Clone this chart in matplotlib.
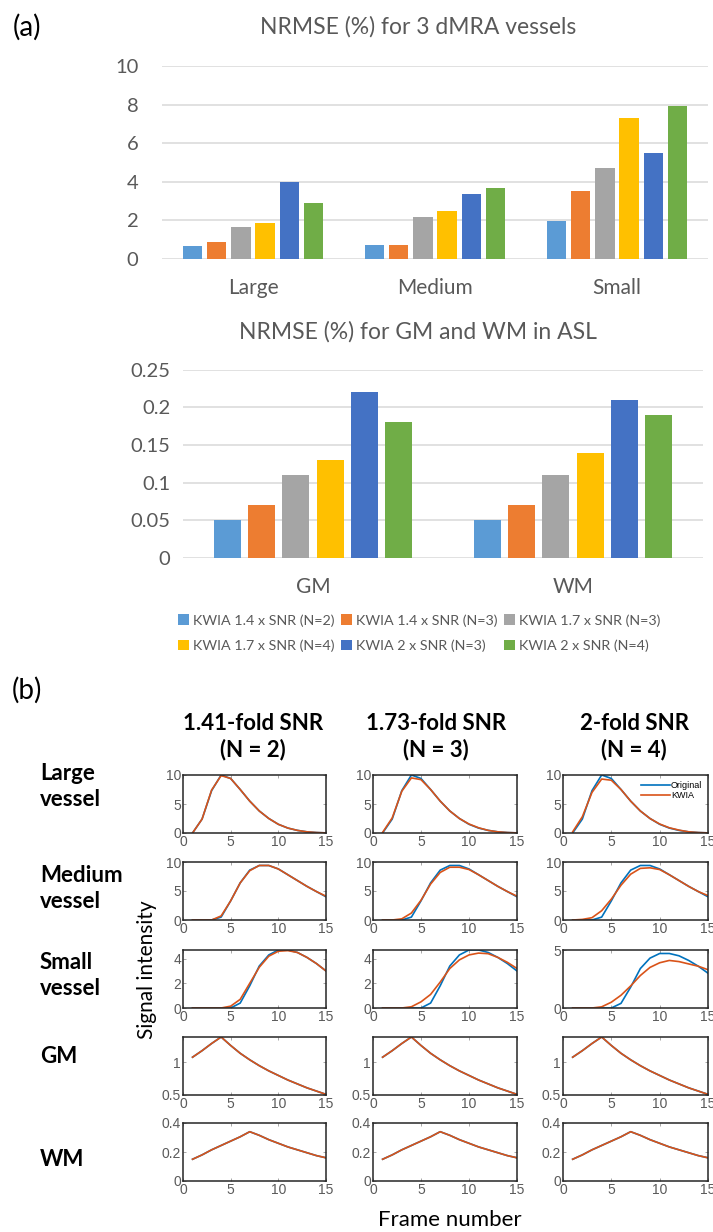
import matplotlib
matplotlib.use('Agg')
import matplotlib.pyplot as plt
import numpy as np

# ---------------- data ----------------
series_labels = ['KWIA 1.4 x SNR (N=2)', 'KWIA 1.4 x SNR (N=3)', 'KWIA 1.7 x SNR (N=3)',
                 'KWIA 1.7 x SNR (N=4)', 'KWIA 2 x SNR (N=3)', 'KWIA 2 x SNR (N=4)']
series_colors = ['#5B9BD5', '#ED7D31', '#A5A5A5', '#FFC000', '#4472C4', '#70AD47']

vessel_cats = ['Large', 'Medium', 'Small']
large_nrmse = [0.65, 0.87, 1.67, 1.89, 4.0, 2.9]
medium_nrmse = [0.72, 0.72, 2.17, 2.47, 3.4, 3.7]
small_nrmse = [1.97, 3.55, 4.7, 7.3, 5.5, 7.95]

tissue_cats = ['GM', 'WM']
gm_nrmse = [0.05, 0.07, 0.11, 0.13, 0.22, 0.18]
wm_nrmse = [0.05, 0.07, 0.11, 0.14, 0.21, 0.19]

frames = list(range(1, 16))
large_orig = [0.0, 2.4, 7.3, 10.0, 9.4, 7.5, 5.5, 3.8, 2.5, 1.5, 0.85, 0.45, 0.2, 0.08, 0.02]
large_kwia_n2 = [0.0, 2.4, 7.4, 9.9, 9.4, 7.5, 5.5, 3.8, 2.5, 1.5, 0.85, 0.45, 0.2, 0.08, 0.02]
large_kwia_n3 = [0.1, 2.6, 7.2, 9.5, 9.2, 7.5, 5.5, 3.8, 2.5, 1.55, 0.9, 0.45, 0.2, 0.08, 0.02]
large_kwia_n4 = [0.2, 2.8, 7.0, 9.3, 9.1, 7.5, 5.5, 3.8, 2.5, 1.55, 0.9, 0.5, 0.2, 0.08, 0.02]

medium_orig = [0.0, 0.0, 0.0, 0.5, 3.3, 6.4, 8.6, 9.4, 9.4, 8.8, 7.8, 6.8, 5.8, 4.9, 4.0]
medium_kwia_n2 = [0.0, 0.0, 0.0, 0.7, 3.3, 6.4, 8.5, 9.4, 9.4, 8.8, 7.8, 6.8, 5.8, 4.9, 4.1]
medium_kwia_n3 = [0.0, 0.0, 0.2, 1.2, 3.4, 6.2, 8.2, 9.1, 9.1, 8.7, 7.8, 6.8, 5.8, 4.9, 4.1]
medium_kwia_n4 = [0.0, 0.1, 0.4, 1.6, 3.6, 6.0, 7.9, 8.9, 9.0, 8.7, 7.8, 6.8, 5.8, 4.9, 4.2]

small_orig = [0.0, 0.0, 0.0, 0.0, 0.0, 0.4, 1.8, 3.4, 4.3, 4.7, 4.7, 4.5, 4.1, 3.6, 3.0]
small_kwia_n2 = [0.0, 0.0, 0.0, 0.0, 0.15, 0.7, 2.0, 3.3, 4.2, 4.6, 4.65, 4.5, 4.1, 3.6, 3.0]
small_kwia_n3 = [0.0, 0.0, 0.0, 0.1, 0.5, 1.1, 2.1, 3.2, 3.9, 4.3, 4.45, 4.4, 4.1, 3.7, 3.2]
small_kwia_n4 = [0.0, 0.0, 0.0, 0.1, 0.5, 1.1, 1.9, 2.8, 3.5, 3.9, 4.1, 4.0, 3.8, 3.6, 3.3]

gm_orig = [1.08, 1.18, 1.29, 1.39, 1.26, 1.14, 1.04, 0.95, 0.87, 0.80, 0.73, 0.67, 0.61, 0.56, 0.51]
gm_kwia = [1.08, 1.18, 1.29, 1.39, 1.26, 1.14, 1.04, 0.95, 0.87, 0.80, 0.73, 0.67, 0.61, 0.56, 0.51]
wm_orig = [0.15, 0.18, 0.215, 0.245, 0.275, 0.305, 0.34, 0.315, 0.285, 0.26, 0.235, 0.215, 0.195, 0.175, 0.16]
wm_kwia = [0.15, 0.18, 0.215, 0.245, 0.275, 0.305, 0.34, 0.315, 0.285, 0.26, 0.235, 0.215, 0.195, 0.175, 0.16]

col_titles = ['1.41-fold SNR\n(N = 2)', '1.73-fold SNR\n(N = 3)', '2-fold SNR\n(N = 4)']
row_labels = ['Large\nvessel', 'Medium\nvessel', 'Small\nvessel', 'GM', 'WM']

# ---------------- figure ----------------
W, H = 713, 1232
fig = plt.figure(figsize=(W / 100, H / 100), dpi=100)
XLFONT = 'Lato'
GRAY = '#595959'


def ax_px(x0, y0, x1, y1):
    return fig.add_axes([x0 / W, 1 - y1 / H, (x1 - x0) / W, (y1 - y0) / H])


def fig_text(x, y, s, **kw):
    return fig.text(x / W, 1 - y / H, s, **kw)


def excel_bars(ax, cats, data, pitch, width, ymax, yticks, ylabels, ypad):
    x = np.arange(len(cats))
    for i in range(len(series_labels)):
        vals = [d[i] for d in data]
        ax.bar(x + (i - 2.5) * pitch, vals, width, color=series_colors[i],
               label=series_labels[i], zorder=3)
    ax.set_xlim(-0.5, len(cats) - 0.5)
    ax.set_ylim(0, ymax)
    ax.set_yticks(yticks)
    ax.set_yticklabels(ylabels)
    ax.set_xticks(x)
    ax.set_xticklabels(cats)
    for s in ax.spines.values():
        s.set_visible(False)
    ax.yaxis.grid(True, color='#D9D9D9', lw=1.1, zorder=0)
    ax.set_axisbelow(True)
    ax.tick_params(axis='y', length=0, pad=ypad, labelsize=14.5, labelcolor=GRAY)
    ax.tick_params(axis='x', length=0, pad=14, labelsize=15, labelcolor=GRAY)
    for t in ax.get_xticklabels() + ax.get_yticklabels():
        t.set_fontfamily(XLFONT)


# Panel (a) chart 1
fig_text(27, 27, '(a)', fontsize=20, family=XLFONT, ha='center', va='center')
fig_text(418, 27, 'NRMSE (%) for 3 dMRA vessels', fontsize=16.5, family=XLFONT,
         color=GRAY, ha='center', va='center')
ax1 = ax_px(162, 66, 708, 259)
excel_bars(ax1, vessel_cats, [large_nrmse, medium_nrmse, small_nrmse],
           0.133, 0.107, 10.02, [0, 2, 4, 6, 8, 10], ['0', '2', '4', '6', '8', '10'], 17)

# Panel (a) chart 2
fig_text(418, 332, 'NRMSE (%) for GM and WM in ASL', fontsize=16.5, family=XLFONT,
         color=GRAY, ha='center', va='center')
ax2 = ax_px(183, 369.5, 703, 558)
excel_bars(ax2, tissue_cats, [gm_nrmse, wm_nrmse],
           0.132, 0.104, 0.2503, [0, 0.05, 0.1, 0.15, 0.2, 0.25],
           ['0', '0.05', '0.1', '0.15', '0.2', '0.25'], 9)

handles, labels = ax2.get_legend_handles_labels()
order = [0, 3, 1, 4, 2, 5]   # row-major layout as in Excel
leg = fig.legend([handles[i] for i in order], [labels[i] for i in order],
                 ncol=3, loc='upper left',
                 bbox_to_anchor=(178 / W, 1 - 614 / H), frameon=False,
                 prop={'family': XLFONT, 'size': 10.3}, handlelength=0.75,
                 handleheight=0.75, handletextpad=0.3, columnspacing=0.45,
                 labelspacing=0.9, borderpad=0, borderaxespad=0)
for t in leg.get_texts():
    t.set_color(GRAY)

# Panel (b)
fig_text(27, 690, '(b)', fontsize=20, family=XLFONT, ha='center', va='center')

col_x = [(183, 326), (373, 517), (563, 708)]
col_title_x = [253, 436, 634]
row_y = [(775, 833), (862, 920), (950, 1008), (1037, 1095), (1123, 1181)]
row_label_y = [763, 865, 952, 1046, 1149]

orig_rows = [large_orig, medium_orig, small_orig, gm_orig, wm_orig]
kwia_rows = [[large_kwia_n2, large_kwia_n3, large_kwia_n4],
             [medium_kwia_n2, medium_kwia_n3, medium_kwia_n4],
             [small_kwia_n2, small_kwia_n3, small_kwia_n4],
             [gm_kwia, gm_kwia, gm_kwia],
             [wm_kwia, wm_kwia, wm_kwia]]
ylims = [[(0, 10)] * 3, [(0, 10)] * 3, [(0, 4.7), (0, 4.7), (0, 5)],
         [(0.5, 1.39)] * 3, [(0, 0.4)] * 3]
yticks = [[[0, 5, 10]] * 3, [[0, 5, 10]] * 3, [[0, 2, 4], [0, 2, 4], [0, 5]],
          [[0.5, 1]] * 3, [[0, 0.2, 0.4]] * 3]
yticklabels = [[['0', '5', '10']] * 3, [['0', '5', '10']] * 3,
               [['0', '2', '4'], ['0', '2', '4'], ['0', '5']],
               [['0.5', '1']] * 3, [['0', '0.2', '0.4']] * 3]

MBLUE = '#0072BD'
MORANGE = '#D95319'
TICKGRAY = '#5a5a5a'

for c in range(3):
    fig_text(col_title_x[c], 737, col_titles[c], fontsize=16, family=XLFONT,
             fontweight='bold', ha='center', va='center', linespacing=1.25)
    for r in range(5):
        x0, x1 = col_x[c]
        y0, y1 = row_y[r]
        ax = ax_px(x0, y0, x1, y1)
        lo, = ax.plot(frames, orig_rows[r], color=MBLUE, lw=1.2, label='Original')
        lk, = ax.plot(frames, kwia_rows[r][c], color=MORANGE, lw=1.2, label='KWIA')
        ax.set_xlim(0, 15)
        ax.set_ylim(*ylims[r][c])
        ax.set_xticks([0, 5, 10, 15])
        ax.set_xticklabels(['0', '5', '10', '15'])
        ax.set_yticks(yticks[r][c])
        ax.set_yticklabels(yticklabels[r][c])
        for s in ax.spines.values():
            s.set_color('#262626')
            s.set_linewidth(1.1)
        ax.tick_params(direction='in', length=2.5, width=0.6, color='#999999',
                       labelsize=10, labelcolor=TICKGRAY, pad=1.5,
                       top=True, right=True)
        for t in ax.get_xticklabels() + ax.get_yticklabels():
            t.set_fontfamily('Liberation Sans')
        if r == 0 and c == 2:
            ax.legend(handles=[lo, lk], loc='upper right', frameon=False,
                      prop={'family': 'Liberation Sans', 'size': 6.5},
                      handlelength=3.2, handletextpad=0.1, labelspacing=0.15,
                      borderaxespad=0.25)

for r in range(5):
    fig_text(40, row_label_y[r], row_labels[r], fontsize=16, family=XLFONT,
             fontweight='bold', ha='left', va='top', linespacing=1.3)

fig_text(147, 970, 'Signal intensity', fontsize=15, family=XLFONT,
         rotation=90, ha='center', va='center')
fig_text(450, 1220, 'Frame number', fontsize=16, family=XLFONT,
         ha='center', va='center')

fig.savefig('out.png', dpi=100)
